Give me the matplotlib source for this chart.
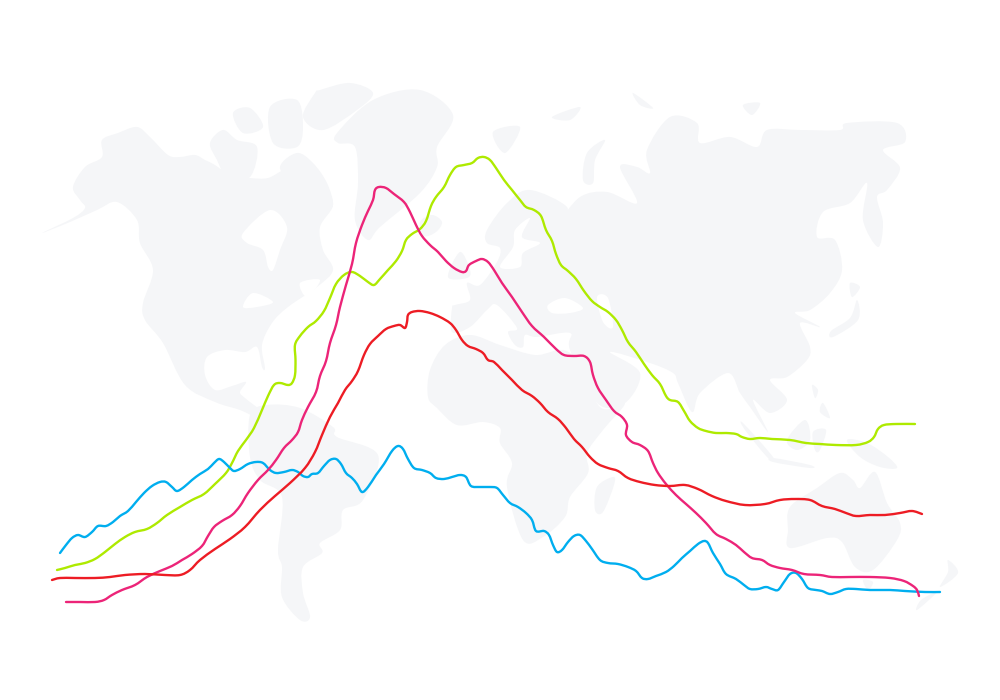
import matplotlib
matplotlib.use("Agg")
import matplotlib.pyplot as plt
from matplotlib.patches import PathPatch
from matplotlib.path import Path

blue_line = [(60,553),(66,545),(72,538),(78,535),(85,537),(92,532),(98,526),(106,526),(113,522),(120,516),(128,511),(136,502),(144,493),(152,486),(160,482),(166,482),(172,487),(177,491),(184,487),(192,480),(200,474),(208,469),(214,463),(219,459),(224,462),(230,468),(234,471),(240,469),(248,464),(256,462),(263,463),(270,470),(276,473),(284,472),(292,470),(298,472),(303,476),(308,477),(312,474),(318,473),(324,466),(330,460),(336,459),(341,464),(346,473),(352,478),(357,484),(362,492),(368,487),(376,475),(384,464),(392,451),(398,446),(403,449),(408,459),(414,468),(422,470),(430,473),(436,478),(444,479),(452,477),(460,475),(466,477),(471,486),(480,487),(490,487),(497,488),(503,495),(510,503),(518,507),(526,513),(532,520),(536,531),(544,531),(549,535),(553,545),(557,552),(562,550),(568,542),(574,536),(580,535),(586,541),(592,549),(600,560),(608,563),(618,564),(628,567),(636,571),(642,578),(648,579),(656,576),(666,572),(674,566),(682,558),(690,551),(698,544),(704,541),(708,543),(713,553),(720,564),(726,574),(736,579),(744,585),(750,589),(758,589),(766,587),(772,589),(778,590),(784,582),(790,574),(796,573),(802,579),(808,588),(816,590),(822,591),(830,594),(838,592),(846,589),(856,589),(870,590),(890,590),(905,591),(925,592),(940,592)]
green_line = [(57,570),(65,568),(75,565),(85,563),(95,559),(105,552),(115,544),(125,537),(135,532),(147,529),(157,523),(167,515),(180,507),(192,500),(204,494),(215,484),(226,473),(232,463),(238,451),(246,440),(254,428),(262,410),(268,396),(274,385),(280,383),(288,385),(292,383),(295,375),(295.5,360),(295,345),(300,336),(308,327),(316,321),(324,311),(330,298),(336,284),(344,275),(352,272),(360,276),(368,282),(374,285),(380,279),(388,270),(396,261),(402,251),(406,240),(412,234),(420,229),(426,221),(431,206),(436,197),(444,187),(450,175),(456,167),(464,165),(472,163),(478,158),(484,157),(490,160),(496,168),(504,180),(512,190),(520,200),(526,207),(534,210),(541,216),(546,230),(552,241),(556,254),(561,265),(568,271),(576,279),(584,291),(592,301),(600,307),(608,312),(616,320),(622,330),(628,342),(636,352),(644,364),(652,375),(660,384),(666,396),(670,400),(678,402),(684,411),(690,421),(698,428),(706,431),(716,433),(726,433),(736,434),(742,437),(750,439),(760,438),(772,439),(790,440),(806,443),(820,444),(836,445),(856,445),(868,442),(874,437),(878,429),(884,425),(896,424),(915,424)]
pink_line = [(66,602),(80,602),(95,602),(104,600),(112,595),(122,590),(135,585),(147,577),(160,571),(172,566),(182,560),(192,554),(202,546),(208,536),(214,527),(222,521),(232,515),(240,506),(248,493),(258,480),(268,470),(276,460),(284,448),(292,440),(298,432),(302,420),(308,407),(316,392),(320,376),(326,361),(330,343),(336,325),(340,307),(346,285),(352,264),(356,243),(362,225),(368,211),(373,200),(375,190),(379,187),(386,188),(394,194),(404,202),(410,212),(416,225),(422,236),(430,245),(438,252),(446,261),(454,268),(462,272),(466,271),(469,265),(476,261),(482,259),(488,262),(494,270),(502,283),(512,297),(522,312),(532,326),(544,337),(556,349),(564,355),(574,356),(584,356),(590,362),(593,375),(598,388),(606,400),(614,411),(622,417),(627,425),(626,435),(632,442),(640,445),(648,451),(653,463),(658,473),(666,484),(676,495),(686,504),(696,513),(706,523),(716,534),(726,539),(736,545),(744,552),(752,558),(762,560),(770,565),(780,568),(792,570),(804,574),(820,575),(832,577),(850,577),(870,577),(890,578),(904,581),(913,586),(917,590),(919,596)]
red_line = [(52,580),(60,578),(75,578),(95,578),(110,577),(125,575),(145,574),(165,575),(180,575),(190,570),(200,560),(215,549),(230,539),(245,527),(260,510),(275,496),(290,483),(305,468),(315,452),(322,435),(330,417),(338,403),(345,390),(352,381),(358,371),(364,355),(370,344),(378,336),(386,329),(394,326),(400,325),(405,328),(407,322),(408,315),(412,312),(420,311),(430,313),(440,317),(450,323),(456,330),(462,340),(468,346),(476,349),(483,353),(488,360),(494,362),(502,370),(512,380),(522,390),(532,396),(540,403),(548,412),(558,419),(566,428),(574,439),(582,447),(590,457),(598,464),(608,468),(618,471),(628,478),(640,482),(655,485),(670,486),(685,485),(698,489),(712,496),(726,501),(745,505),(765,504),(780,500),(795,499),(810,500),(822,506),(835,509),(846,513),(856,516),(870,515),(885,515),(900,513),(912,511),(922,514)]

north_america = [(42,233),(70,222),(97,210),(117,202),(137,220),(140,243),(153,270),(143,303),(145,320),(163,343),(185,385),(215,402),(240,410),(258,418),(262,412),(245,398),(240,392),(246,382),(232,386),(215,390),(205,375),(207,357),(225,350),(245,352),(257,347),(262,367),(265,368),(262,345),(272,323),(288,307),(317,287),(333,270),(323,250),(320,227),(333,205),(323,185),(300,175),(285,170),(268,178),(250,178),(230,175),(215,165),(205,160),(195,155),(180,157),(168,155),(150,137),(137,127),(118,133),(102,140),(102,157),(85,167),(73,187),(80,200),(85,208),(73,218)]
south_america = [(250,415),(267,405),(300,408),(333,427),(337,437),(378,455),(363,500),(343,510),(340,530),(320,543),(322,553),(303,567),(303,593),(310,617),(300,620),(282,597),(282,567),(278,550),(282,497),(260,480),(250,457)]
africa = [(430,370),(445,345),(470,335),(500,345),(535,355),(570,353),(600,407),(625,403),(603,430),(587,453),(588,473),(570,497),(565,517),(543,537),(523,540),(507,487),(512,463),(500,443),(500,428),(483,422),(457,425),(437,408),(428,397)]
madagascar = [(613,477),(614,485),(603,512),(595,510),(597,487)]
greenland = [(337,133),(373,100),(420,90),(453,115),(437,147),(437,167),(420,193),(380,227),(368,240),(355,220),(358,183),(355,147),(338,143)]
ellesmere = [(320,90),(350,83),(373,93),(357,110),(323,130),(303,117),(315,93)]
baffin = [(280,167),(297,153),(313,163),(327,183),(333,205),(323,210),(307,203),(293,187)]
victoria = [(210,143),(223,130),(237,140),(257,147),(250,177),(227,177),(217,160)]
banks = [(233,113),(250,108),(263,127),(243,133)]
devon = [(270,107),(297,100),(303,127),(297,147),(273,143)]
iceland = [(420,222),(432,215),(442,222),(436,232),(424,236)]
eurasia = [(452,308),(452,332),(470,327),(487,310),(497,305),(517,328),(508,332),(515,345),(523,347),(525,335),(537,337),(570,333),(570,350),(597,403),(625,403),(640,373),(610,352),(650,363),(673,373),(678,383),(692,412),(700,393),(728,373),(740,393),(750,407),(768,432),(753,400),(770,413),(787,400),(770,380),(787,377),(807,360),(810,347),(800,323),(820,327),(795,313),(810,310),(830,293),(842,270),(835,240),(817,237),(823,212),(850,203),(867,183),(863,220),(878,247),(883,223),(877,197),(887,190),(900,168),(883,150),(905,142),(897,123),(847,123),(840,130),(800,130),(767,130),(757,147),(730,137),(700,143),(697,123),(670,117),(647,150),(650,173),(637,167),(620,167),(637,203),(607,192),(580,197),(558,223),(567,207),(530,190),(507,203),(487,230),(487,243),(500,248),(497,262),(480,285),(467,283),(470,300),(455,305)]
novaya_zemlya = [(583,180),(587,153),(605,140),(595,160),(593,183)]
britain = [(448,277),(460,252),(470,270),(467,278)]
svalbard = [(493,132),(520,127),(505,153)]
franz_josef = [(552,117),(580,107),(570,120)]
severnaya = [(633,93),(653,108),(640,105)]
new_siberian = [(743,105),(760,103),(752,115)]
honshu = [(857,300),(858,320),(833,337),(831,331),(850,318)]
hokkaido = [(850,283),(860,287),(852,297)]
sumatra = [(743,423),(773,457),(768,458),(745,430)]
borneo = [(787,440),(805,420),(810,440),(797,450)]
java = [(773,458),(810,465),(810,468),(773,462)]
sulawesi = [(813,432),(826,430),(820,450),(815,450)]
luzon = [(812,385),(818,390),(815,398)]
mindanao = [(823,403),(830,418),(820,412)]
new_guinea = [(847,440),(867,443),(888,457),(897,468),(880,467),(860,457)]
australia = [(790,507),(817,488),(840,473),(853,480),(860,488),(875,472),(887,503),(900,523),(897,540),(873,570),(855,567),(842,542),(827,538),(790,548),(788,530)]
tasmania = [(863,580),(873,582),(868,590)]
nz_north = [(948,560),(958,573),(940,587),(948,572)]
nz_south = [(937,592),(917,610),(921,600)]
land = [north_america, south_america, africa, madagascar, greenland, ellesmere, baffin, victoria, banks, devon, iceland, eurasia, novaya_zemlya, britain, svalbard, franz_josef, severnaya, new_siberian, honshu, hokkaido, sumatra, borneo, java, sulawesi, luzon, mindanao, new_guinea, australia, tasmania, nz_north, nz_south]

hudson_bay = [(243,233),(270,210),(287,227),(280,250),(273,270),(268,267),(263,250),(247,243)]
great_lakes = [(243,307),(253,293),(273,302),(257,307)]
st_lawrence = [(300,283),(320,280),(307,297)]
black_sea = [(548,305),(565,298),(583,308),(570,313),(552,313)]
caspian = [(597,297),(608,298),(613,327),(603,322)]
baltic = [(500,267),(513,247),(515,230),(530,218),(522,237),(540,243),(523,253),(520,267)]
water = [hudson_bay, great_lakes, st_lawrence, black_sea, caspian, baltic]


def smooth_path(points, closed=False):
    """Cubic Bezier path passing through the given points."""
    n = len(points)
    def at(i):
        return points[i % n] if closed else points[min(max(i, 0), n - 1)]
    verts = [points[0]]
    codes = [Path.MOVETO]
    for i in range(n if closed else n - 1):
        p0, p1, p2, p3 = at(i - 1), at(i), at(i + 1), at(i + 2)
        c1 = (p1[0] + (p2[0] - p0[0]) / 6, p1[1] + (p2[1] - p0[1]) / 6)
        c2 = (p2[0] - (p3[0] - p1[0]) / 6, p2[1] - (p3[1] - p1[1]) / 6)
        verts += [c1, c2, p2]
        codes += [Path.CURVE4] * 3
    return Path(verts, codes)


fig = plt.figure(figsize=(10, 7), dpi=100, facecolor="white")
ax = fig.add_axes([0, 0, 1, 1])
ax.set_xlim(0, 1000)
ax.set_ylim(700, 0)
ax.axis("off")

for shape in land:
    ax.add_patch(PathPatch(smooth_path(shape, closed=True), facecolor="#f5f6f8", edgecolor="none", zorder=1))
for shape in water:
    ax.add_patch(PathPatch(smooth_path(shape, closed=True), facecolor="white", edgecolor="none", zorder=2))

for series, colour in [(green_line, "#aeea00"), (blue_line, "#00aeef"), (pink_line, "#ec2478"), (red_line, "#ed1c24")]:
    ax.add_patch(PathPatch(smooth_path(series), facecolor="none", edgecolor=colour, lw=1.7,
                           joinstyle="round", capstyle="round", zorder=3))

fig.savefig("out.png", dpi=100, facecolor="white")
